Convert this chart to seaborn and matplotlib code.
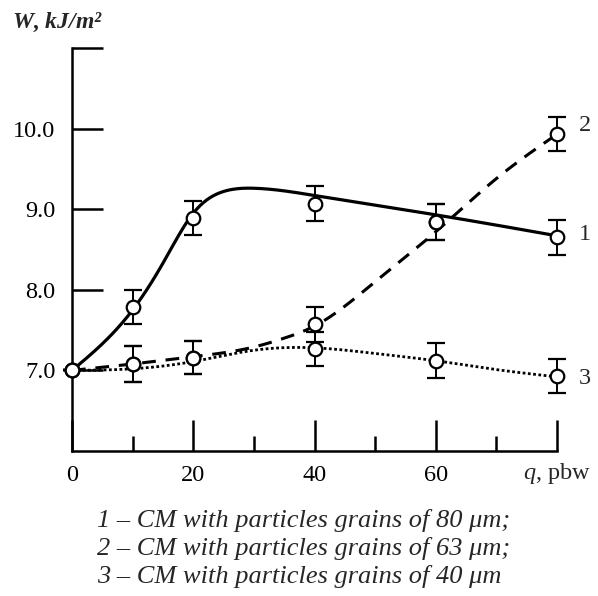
import numpy as np
import pandas as pd
import matplotlib
matplotlib.use("Agg")
import matplotlib.pyplot as plt
import seaborn as sns

# Measured impact strength W (kJ/m^2) vs. filler content q (pbw)
q = [0, 10, 20, 40, 60, 80]
w1 = [7.0, 7.79, 8.89, 9.07, 8.84, 8.65]
w2 = [7.0, 7.08, 7.16, 7.57, 8.84, 9.93]
w3 = [7.0, 7.08, 7.16, 7.27, 7.12, 6.93]
err1 = [0.0, 0.21, 0.21, 0.22, 0.22, 0.22]
err2 = [0.0, 0.22, 0.21, 0.22, 0.22, 0.21]
err3 = [0.0, 0.22, 0.21, 0.21, 0.22, 0.21]

# Trend-curve nodes for each composition
fit1_q = [0, 10, 15, 20, 25, 30, 40, 60, 80]
fit1_w = [7.0, 7.75, 8.33, 8.95, 9.22, 9.26, 9.17, 8.93, 8.67]
fit2_q = [0, 10, 20, 30, 35, 40, 50, 60, 70, 80]
fit2_w = [7.0, 7.08, 7.17, 7.29, 7.40, 7.55, 8.10, 8.72, 9.38, 9.93]
fit3_q = [0, 10, 20, 30, 40, 50, 60, 70, 80]
fit3_w = [7.0, 7.02, 7.11, 7.25, 7.28, 7.21, 7.12, 7.01, 6.92]

y_ticks = [7.0, 8.0, 9.0, 10.0]
y_ticklabels = ["7.0", "8.0", "9.0", "10.0"]
x_ticks = [0, 20, 40, 60, 80]
x_ticklabels = ["0", "20", "40", "60", ""]
curve_ids = ["1", "2", "3"]
curve_id_w = [8.68, 10.04, 6.9]
legend_lines = [
    "1 – CM with particles grains of 80 μm;",
    "2 – CM with particles grains of 63 μm;",
    "3 – CM with particles grains of 40 μm",
]


def natural_spline(xk, yk, n=300):
    """Natural cubic spline through the nodes, sampled on n points."""
    xk = np.asarray(xk, float)
    yk = np.asarray(yk, float)
    m = len(xk)
    h = np.diff(xk)
    A = np.zeros((m, m))
    b = np.zeros(m)
    A[0, 0] = A[-1, -1] = 1.0
    for i in range(1, m - 1):
        A[i, i - 1] = h[i - 1]
        A[i, i] = 2 * (h[i - 1] + h[i])
        A[i, i + 1] = h[i]
        b[i] = 6 * ((yk[i + 1] - yk[i]) / h[i] - (yk[i] - yk[i - 1]) / h[i - 1])
    M = np.linalg.solve(A, b)
    xs = np.linspace(xk[0], xk[-1], n)
    idx = np.clip(np.searchsorted(xk, xs) - 1, 0, m - 2)
    x0, x1 = xk[idx], xk[idx + 1]
    hh = x1 - x0
    t0, t1 = x1 - xs, xs - x0
    ys = (M[idx] * t0 ** 3 + M[idx + 1] * t1 ** 3) / (6 * hh) \
        + (yk[idx] / hh - M[idx] * hh / 6) * t0 \
        + (yk[idx + 1] / hh - M[idx + 1] * hh / 6) * t1
    return xs, ys


sns.set_style("white")
plt.rcParams["font.family"] = ["Liberation Serif", "DejaVu Serif"]
plt.rcParams["mathtext.fontset"] = "custom"
plt.rcParams["mathtext.rm"] = "Liberation Serif"
plt.rcParams["mathtext.it"] = "Liberation Serif:italic"
plt.rcParams["mathtext.bf"] = "Liberation Serif:bold:italic"

fig = plt.figure(figsize=(5.98, 5.96), dpi=100)
ax = fig.add_axes([72 / 598, 145 / 596, 485 / 598, 403 / 596])

# Smooth trend curves
styles = [
    dict(linestyle="-", lw=2.3),
    dict(linestyle=(0, (4.5, 3.2)), lw=2.2),
    dict(linestyle=(0, (1.0, 0.9)), lw=2.0),
]
for (fx, fy), st in zip([(fit1_q, fit1_w), (fit2_q, fit2_w), (fit3_q, fit3_w)], styles):
    xs, ys = natural_spline(fx, fy)
    df = pd.DataFrame({"q": xs, "W": ys})
    sns.lineplot(data=df, x="q", y="W", ax=ax, color="black", sort=False,
                 estimator=None, zorder=3, **st)

# Measured points with error bars
for w, e in [(w1, err1), (w2, err2), (w3, err3)]:
    ax.errorbar(q, w, yerr=e, fmt="none", ecolor="black", elinewidth=1.4,
                capsize=6.2, capthick=1.6, zorder=4, clip_on=False)
    sns.scatterplot(x=q, y=w, ax=ax, marker="o", s=95, facecolor="white",
                    edgecolor="black", linewidth=1.6, zorder=5, clip_on=False)

ax.set_xlim(0, 80)
ax.set_ylim(6, 11)

for side in ["top", "right"]:
    ax.spines[side].set_visible(False)
for side in ["left", "bottom"]:
    ax.spines[side].set_linewidth(1.8)
    ax.spines[side].set_color("black")

ax.set_yticks(y_ticks + [11.0])
ax.set_yticklabels(y_ticklabels + [""])
ax.set_xticks(x_ticks)
ax.set_xticklabels(x_ticklabels)
ax.set_xticks([10, 30, 50, 70], minor=True)
ax.tick_params(axis="y", which="major", left=True, direction="in", length=22,
               width=1.8, labelsize=17.5, pad=12, colors="black")
ax.tick_params(axis="x", which="major", bottom=True, direction="in", length=22,
               width=1.8, labelsize=17.5, pad=10, colors="black")
ax.tick_params(axis="x", which="minor", bottom=True, direction="in", length=11,
               width=1.8, colors="black")
ax.set_xlabel("")
ax.set_ylabel("")

# Curve numbers at the right end
for cid, yv in zip(curve_ids, curve_id_w):
    ax.text(84.6, yv, cid, fontsize=17.5, ha="center", va="center", clip_on=False)

# Axis titles
fig.text(12 / 598, 1 - 22 / 596, "$\\mathbf{W}$, kJ/m²", fontsize=17,
         fontstyle="italic", fontweight="bold", ha="left", va="center")
fig.text(523 / 598, 1 - 474 / 596, "$q$, pbw", fontsize=17.5,
         ha="left", va="center")

# Composition key under the plot
for i, line in enumerate(legend_lines):
    fig.text(97 / 598, 1 - (520 + 28.5 * i) / 596, line, fontsize=19,
             fontstyle="italic", ha="left", va="center")

fig.savefig("out.png", dpi=100)
